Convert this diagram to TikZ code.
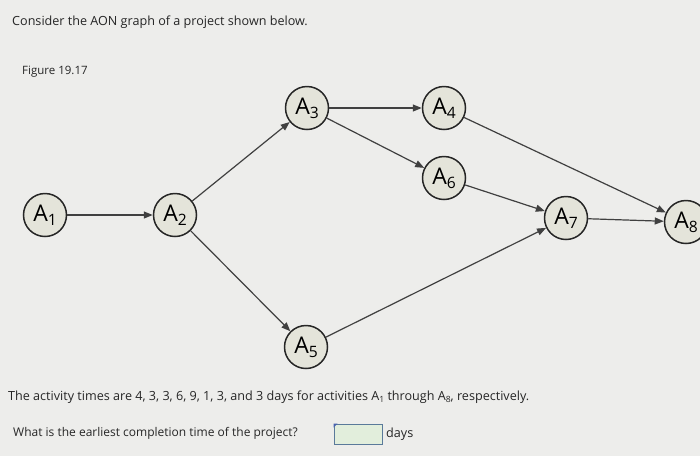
\documentclass[tikz,border=0pt]{standalone}
\usepackage{fontspec}
\setmainfont{Open Sans}
\usetikzlibrary{arrows.meta}
\definecolor{bg}{HTML}{EDEDEB}
\definecolor{nodefill}{HTML}{E4E4DA}
\definecolor{boxfill}{HTML}{E2EEDC}
\definecolor{boxline}{HTML}{5A7A9A}
\newcommand{\sbs}[1]{\raisebox{-0.35ex}{\fontsize{0.68em}{1em}\selectfont #1}}
\tikzset{
  act/.style={circle,draw=black!85,line width=1.5pt,fill=nodefill,minimum size=43pt,inner sep=0pt,font=\fontsize{23}{23}\selectfont},
  con/.style={draw=black!75,line width=1.2pt,-{Triangle[length=9pt,width=7pt]}},
  txt/.style={anchor=west,inner sep=0pt,font=\fontsize{12.6}{14}\selectfont,text=black!85}
}
\begin{document}
\begin{tikzpicture}[x=1pt,y=-1pt]
\useasboundingbox (0,0) rectangle (700,456);
\clip (0,0) rectangle (700,456);
\fill[bg] (0,0) rectangle (700,456);
\node[txt] (t1) at (12,22) {Consider the AON graph of a project shown below.};
\node[txt,font=\fontsize{11.5}{13}\selectfont] (t2) at (22,72) {Figure 19.17};
\node[act] (a1) at (45,215) {A\sbs{1}};
\node[act] (a2) at (175,215) {A\sbs{2}};
\node[act] (a3) at (307,108) {A\sbs{3}};
\node[act] (a4) at (444,108) {A\sbs{4}};
\node[act] (a6) at (444,178) {A\sbs{6}};
\node[act] (a7) at (566,218) {A\sbs{7}};
\node[act] (a8) at (686,222) {A\sbs{8}};
\node[act] (a5) at (306,347) {A\sbs{5}};
\draw[con] (a1) -- (a2);
\draw[con] (a2) -- (a3);
\draw[con] (a2) -- (a5);
\draw[con] (a3) -- (a4);
\draw[con] (a3) -- (a6);
\draw[con] (a4) -- (a8);
\draw[con] (a6) -- (a7);
\draw[con] (a5) -- (a7);
\draw[con] (a7) -- (a8);
\node[txt] (t3) at (8,397) {The activity times are 4, 3, 3, 6, 9, 1, 3, and 3 days for activities A\sbs{1} through A\sbs{8}, respectively.};
\node[txt,font=\fontsize{12}{14}\selectfont] (t4) at (13,433) {What is the earliest completion time of the project?};
\node[draw=boxline,fill=boxfill,line width=0.8pt,minimum width=48pt,minimum height=20pt,inner sep=0pt] (box) at (358,434) {};
\fill[boxline!80!blue] (box.north west) -- ++(4,0) -- ++(-4,4) -- cycle;
\node[txt] (days) at (386,434) {days};
\end{tikzpicture}
\end{document}
